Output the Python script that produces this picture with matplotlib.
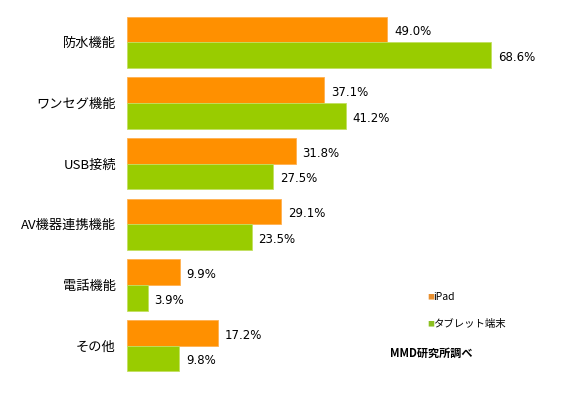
import matplotlib.pyplot as plt
import numpy as np

plt.rcParams['font.family'] = ['Noto Sans CJK JP', 'DejaVu Sans']

categories = ['防水機能', 'ワンセグ機能', 'USB接続', 'AV機器連携機能', '電話機能', 'その他']
ipad = [49.0, 37.1, 31.8, 29.1, 9.9, 17.2]
tablet = [68.6, 41.2, 27.5, 23.5, 3.9, 9.8]
series_names = ['iPad', 'タブレット端末']
source = 'MMD研究所調べ'

orange = '#FF9000'
green = '#99CC00'

fig = plt.figure(figsize=(5.65, 3.93), dpi=100)
ax = fig.add_axes([127 / 565, 1 - 376 / 393, 1 - 127 / 565, 364 / 393])

y = np.arange(len(categories))
h = 0.425
ax.barh(y - h / 2, ipad, height=h, color=orange, edgecolor='#FFB050', linewidth=0.6)
ax.barh(y + h / 2, tablet, height=h, color=green, edgecolor='#C2E060', linewidth=0.6)

for i in range(len(categories)):
    ax.text(ipad[i] + 1.3, y[i] - h / 2 + 0.04, '%.1f%%' % ipad[i],
            va='center', ha='left', fontsize=8.5, family='DejaVu Sans')
    ax.text(tablet[i] + 1.3, y[i] + h / 2 + 0.04, '%.1f%%' % tablet[i],
            va='center', ha='left', fontsize=8.5, family='DejaVu Sans')

ax.set_xlim(0, 438 / 5.306)
ax.set_ylim(len(categories) - 0.5, -0.5)
ax.set_yticks(y)
ax.set_yticklabels(categories, fontsize=9.5)
ax.tick_params(axis='y', length=0, pad=8)
ax.set_xticks([])
for s in ax.spines.values():
    s.set_visible(False)

# legend and source note
fig.text(427 / 565, 1 - 297 / 393, '■', color='#E89030', fontsize=5, va='center')
fig.text(433 / 565, 1 - 297 / 393, series_names[0], fontsize=7.5, va='center')
fig.text(427 / 565, 1 - 324 / 393, '■', color='#8CC020', fontsize=5, va='center')
fig.text(433 / 565, 1 - 324 / 393, series_names[1], fontsize=7.5, va='center')
fig.text(390 / 565, 1 - 353 / 393, source, fontsize=8, fontweight='bold', va='center')

fig.savefig('out.png', dpi=100)
